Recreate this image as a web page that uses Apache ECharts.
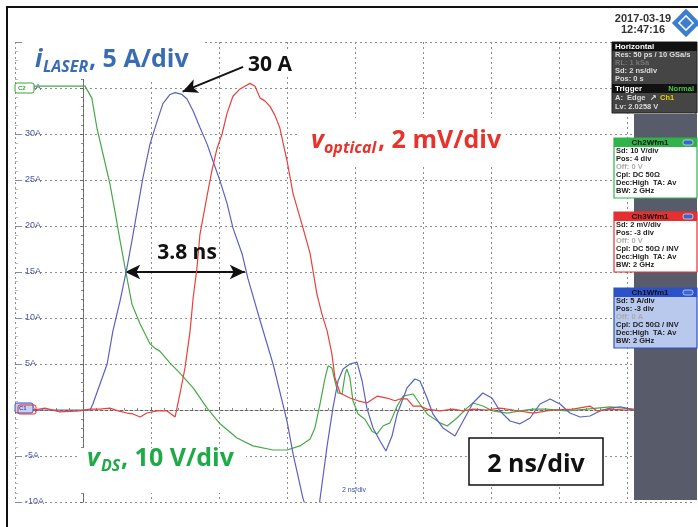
<!DOCTYPE html>
<html><head><meta charset="utf-8">
<script src="https://cdn.jsdelivr.net/npm/echarts@6/dist/echarts.min.js"></script>
<style>html,body{margin:0;padding:0;background:#fff}#c{width:698px;height:527px}</style>
</head><body><div id="c"></div>
<script>
// ---- data (time in ns relative to trigger line, values on the 5 A/div screen scale) ----
const yTickValues = [-10, -5, 0, 5, 10, 15, 20, 25, 30, 35, 40];
const yTickLabels = ['-10A', '-5A', '0A', '5A', '10A', '15A', '20A', '25A', '30A', '35A', ''];

const iLaser = [[-2,0],[0.21,0],[0.29,0.65],[0.5,2.83],[0.71,5.0],[0.88,8.6],[1.09,11.85],[1.29,15.4],[1.44,18.4],[1.59,21.6],[1.76,25.2],[1.97,28.9],[2.18,31.4],[2.35,33.3],[2.56,34.3],[2.71,34.5],[2.91,34.3],[3.06,33.8],[3.24,32.5],[3.44,30.7],[3.65,28.9],[3.82,27.1],[4.03,24.9],[4.24,22.4],[4.41,19.8],[4.68,16.96],[4.85,14.3],[5.21,9.7],[5.59,5.0],[6.0,-1.2],[6.18,-4.8],[6.47,-9.6],[6.68,-12],[6.91,-12],[6.97,-9.7],[7.18,-3.9],[7.35,0.2],[7.5,3.15],[7.65,4.46],[7.85,5.0],[8.06,5.2],[8.21,3.15],[8.35,0.2],[8.53,-1.96],[8.74,-3.4],[8.91,-4.46],[9.09,-2.8],[9.24,-0.43],[9.53,2.4],[9.76,3.37],[9.91,3.15],[10.12,1.3],[10.29,-0.43],[10.59,-1.96],[10.94,-2.83],[11.18,-1.2],[11.47,0.76],[11.76,1.85],[12.03,1.3],[12.26,-0.1],[12.56,-1.2],[12.85,-1.5],[13.15,-0.87],[13.44,0.65],[13.74,1.2],[14.03,0.65],[14.32,-0.33],[14.62,-0.76],[14.91,-0.65],[15.21,-0.1],[15.5,0.2],[15.8,0.35],[16.1,0.1],[16.4,-0.2],[16.7,-0.1],[17.0,0.1],[17.4,0.0],[18,0]];

const vOptical = [[-2,0.1],[-1.56,-0.1],[-1.12,0.2],[-0.68,-0.2],[-0.09,-0.1],[0.21,0.1],[0.5,0.1],[0.79,0.2],[1.03,-0.1],[1.29,-0.33],[1.47,-0.43],[1.68,-0.76],[1.88,-0.33],[2.18,-0.1],[2.47,-0.1],[2.71,-0.76],[2.85,1.74],[3.0,4.57],[3.15,8.6],[3.24,12.2],[3.35,15.4],[3.44,19.1],[3.65,23.3],[3.79,26.0],[3.94,28.4],[4.09,30.0],[4.24,32.3],[4.41,34.1],[4.62,34.9],[4.76,35.2],[4.91,35.5],[5.06,35.2],[5.21,33.9],[5.35,33.6],[5.5,33.0],[5.65,32.0],[5.79,30.65],[6.0,27.1],[6.18,23.5],[6.47,19.8],[6.68,17.0],[6.88,12.6],[7.03,10.4],[7.18,8.6],[7.32,6.1],[7.41,3.5],[7.56,1.85],[7.85,1.3],[8.09,1.0],[8.35,0.76],[8.65,1.5],[8.94,1.3],[9.18,1.0],[9.32,1.2],[9.53,1.2],[9.71,0.43],[9.91,0.43],[10.12,0.1],[10.5,-0.1],[10.88,0.1],[11.18,-0.1],[11.47,0.1],[11.88,0],[12.26,0.2],[12.65,0],[13.24,-0.33],[13.82,0],[14.41,0.1],[14.91,0.43],[15.12,-0.1],[15.5,0.1],[16.0,0.0],[16.6,0.15],[17.2,-0.1],[18,0]];

const vDS = [[-2,35.2],[0.06,35.2],[0.26,33.9],[0.41,30.65],[0.59,27.8],[0.79,24.6],[0.94,21.6],[1.09,18.4],[1.24,15.4],[1.44,11.5],[1.68,9.35],[1.97,7.2],[2.12,6.7],[2.26,6.4],[2.56,5.1],[2.85,4.0],[3.24,2.4],[3.65,0.2],[4.03,-1.5],[4.53,-3.04],[5.0,-3.9],[5.59,-4.35],[6.0,-4.35],[6.38,-3.9],[6.68,-3.15],[6.82,-1.96],[6.97,0.65],[7.12,3.5],[7.21,4.8],[7.32,4.57],[7.41,3.15],[7.5,1.85],[7.62,1.74],[7.71,3.9],[7.76,4.46],[7.85,3.5],[7.94,1.0],[8.09,-0.43],[8.29,-1.0],[8.5,-2.3],[8.65,-2.6],[8.82,-1.74],[9.03,-1.4],[9.24,0.43],[9.41,1.5],[9.71,1.74],[9.91,0.65],[10.12,-0.43],[10.5,-1.4],[10.71,-1.74],[11.0,-0.87],[11.29,0.2],[11.47,0.76],[11.76,0.43],[12.06,-0.1],[12.47,-0.33],[12.85,-0.1],[13.24,0.1],[13.62,0.1],[14.24,-0.1],[14.82,0.1],[15.5,0.33],[16.2,0.1],[16.9,0.2],[18,0.1]];

// annotation anchors (data coords)
const peakArrow = [[4.71, 37.3], [2.93, 34.6]];
const widthArrow = [[1.24, 15], [4.76, 15]];

// ---- chart ----
const chart = echarts.init(document.getElementById('c'), null, {renderer: 'canvas'});
const G = [];
function rect(x, y, w, h, fill, stroke, lw, z, r) {
  G.push({type: 'rect', z: z, shape: {x: x, y: y, width: w, height: h, r: r || 0},
    style: {fill: fill || 'none', stroke: stroke || null, lineWidth: lw || 0}});
}
function text(x, y, s, font, fill, align, z) {
  G.push({type: 'text', z: z || 40, x: x, y: y,
    style: {text: s, font: font, fill: fill, align: align || 'left', textAlign: align || 'left',
      verticalAlign: 'middle', textVerticalAlign: 'middle'}});
}
const OS = '"Open Sans", "Liberation Sans", sans-serif';
const BLUE_T = '#3a6cb4', RED_T = '#e8322b', GREEN_T = '#1faa48';

// white label backgrounds
rect(22, 42, 183, 37, '#fff', null, 0, 3);
rect(245, 52, 52, 24, '#fff', null, 0, 3);
rect(298, 118, 208, 46, '#fff', null, 0, 3);
rect(78, 448, 168, 45, '#fff', null, 0, 3);

// iLASER label
text(35, 60, 'i', 'italic bold 25px ' + OS, BLUE_T);
text(43, 67.5, 'LASER', 'italic bold 16px ' + OS, BLUE_T);
text(89, 60, ', 5 A/div', 'bold 25px ' + OS, BLUE_T);
// 30 A
text(248, 65, '30 A', 'bold 21px ' + OS, '#111');
// 3.8 ns
text(187, 253, '3.8 ns', 'bold 21px ' + OS, '#111', 'center');
// v optical
text(311, 141, 'v', 'italic bold 25px ' + OS, RED_T);
text(324, 148.5, 'optical', 'italic bold 16px ' + OS, RED_T);
text(378, 141, ', 2 mV/div', 'bold 25px ' + OS, RED_T);
// vDS
text(87, 459, 'v', 'italic bold 25px ' + OS, GREEN_T);
text(101, 466, 'DS', 'italic bold 16px ' + OS, GREEN_T);
text(121, 459, ', 10 V/div', 'bold 25px ' + OS, GREEN_T);
// 2 ns/div box
rect(469, 438, 134, 47, '#fff', '#111', 1.5, 45);
text(536, 465, '2 ns/div', 'bold 25px ' + OS, '#111', 'center', 46);
// small scope text
text(342, 490, '2 ns/div', '7px "Liberation Sans"', '#4050b0');

// channel markers
rect(15, 83, 19, 10, '#fff', '#3aa23a', 1, 35, 2);
text(18, 88, 'C2', 'bold 6px "Liberation Sans"', '#3aa23a', 'left', 36);
rect(15, 403, 18, 10, '#c9d1f2', '#4050b0', 1, 35, 2);
rect(18, 405, 18, 9, 'none', '#e03030', 1, 36, 2);
text(19, 408, 'C1', 'bold 6px "Liberation Sans"', '#4050b0', 'left', 37);

// right info panel
rect(634, 114, 63, 386, '#585b69', null, 0, 30);
text(643, 19, '2017-03-19', 'bold 11px "Liberation Sans"', '#333', 'center', 31);
text(643, 30, '12:47:16', 'bold 11px "Liberation Sans"', '#333', 'center', 31);
G.push({type: 'rect', z: 31, x: 686, y: 23, rotation: Math.PI / 4, shape: {x: -10, y: -10, width: 20, height: 20},
  style: {fill: '#3b7ed0'}});
G.push({type: 'rect', z: 32, x: 686, y: 23, rotation: Math.PI / 4, shape: {x: -5, y: -5, width: 10, height: 10},
  style: {fill: 'none', stroke: '#fff', lineWidth: 1.5}});

const SF = 'bold 7.5px "Liberation Sans"';
// Horizontal box
rect(612, 42, 85, 71, '#454545', '#222', 1, 31);
rect(612, 42, 85, 9, '#111', null, 0, 32);
text(615, 46.5, 'Horizontal', 'bold 8px "Liberation Sans"', '#fff', 'left', 33);
text(615, 55, 'Res: 50 ps / 10 GSa/s', SF, '#ddd', 'left', 33);
text(615, 63, 'RL: 1 kSa', SF, '#777', 'left', 33);
text(615, 71, 'Sd: 2 ns/div', SF, '#ddd', 'left', 33);
text(615, 79, 'Pos: 0 s', SF, '#ddd', 'left', 33);
rect(612, 84, 85, 9, '#111', null, 0, 32);
text(615, 88.5, 'Trigger', 'bold 8px "Liberation Sans"', '#fff', 'left', 33);
text(694, 88.5, 'Normal', 'bold 7.5px "Liberation Sans"', '#4c4', 'right', 33);
text(615, 98, 'A:  Edge  \u2197', SF, '#ddd', 'left', 33);
text(660, 98, 'Ch1', SF, '#e6d000', 'left', 33);
text(615, 107, 'Lv: 2.0258 V', SF, '#ddd', 'left', 33);

function chBox(y, head, headCol, bodyCol, lines) {
  const h = 10 + lines.length * 8 + 2;
  rect(614, y, 83, h, bodyCol, headCol, 1.2, 31);
  rect(614, y, 83, 9, headCol, null, 0, 32);
  text(650, y + 4.5, head, 'bold 8px "Liberation Sans"', '#111', 'center', 33);
  rect(683, y + 2, 10, 5, '#3a66d0', '#fff', 0.6, 33, 2);
  lines.forEach(function (l, i) {
    text(616, y + 13 + i * 8, l[0], SF, l[1] ? '#aaa' : '#222', 'left', 33);
  });
}
chBox(138, 'Ch2Wfm1', '#2fb34a', '#fff', [['Sd: 10 V/div'], ['Pos: 4 div'], ['Off: 0 V', 1], ['Cpl: DC 50\u03A9'], ['Dec:High  TA: Av'], ['BW: 2 GHz']]);
chBox(212, 'Ch3Wfm1', '#e53030', '#fff', [['Sd: 2 mV/div'], ['Pos: -3 div'], ['Off: 0 V', 1], ['Cpl: DC 50\u03A9 / INV'], ['Dec:High  TA: Av'], ['BW: 2 GHz']]);
chBox(288, 'Ch1Wfm1', '#2c52c8', '#b9c9ee', [['Sd: 5 A/div'], ['Pos: -3 div'], ['Off: 0 A', 1], ['Cpl: DC 50\u03A9 / INV'], ['Dec:High  TA: Av'], ['BW: 2 GHz']]);

// outer frame
rect(7, 7, 740, 580, 'none', '#111', 2, 60);

const gridDot = {color: '#8e8e8e', type: [2, 3], width: 1};
const option = {
  animation: false,
  backgroundColor: '#fff',
  grid: {left: 15, top: 42, width: 680, height: 460},
  xAxis: [{
    type: 'value', min: -2, max: 18, interval: 2,
    axisLabel: {show: false},
    axisLine: {show: true, onZero: true, lineStyle: {color: '#666', type: [3, 2], width: 1}},
    axisTick: {show: true, inside: true, length: 3, lineStyle: {color: '#666'}},
    minorTick: {show: true, splitNumber: 5, length: 2, lineStyle: {color: '#888'}},
    splitLine: {show: true, lineStyle: gridDot}
  }],
  yAxis: [{
    type: 'value', min: -10, max: 40, interval: 5,
    axisLine: {show: false, onZero: false},
    axisTick: {show: true, inside: true, length: 6, lineStyle: {color: '#8088b0'}},
    minorTick: {show: true, splitNumber: 5, length: 3, lineStyle: {color: '#bbb'}},
    splitLine: {show: true, lineStyle: gridDot},
    axisLabel: {inside: true, margin: 10, color: '#5057a5', fontSize: 9, fontFamily: '"Liberation Sans", sans-serif',
      formatter: function (v) { const i = yTickValues.indexOf(v); return i >= 0 ? yTickLabels[i] : ''; }}
  }, {
    type: 'value', min: -10, max: 40, interval: 5, position: 'left',
    axisLine: {show: true, onZero: true, lineStyle: {color: '#666', type: [3, 2], width: 1}},
    axisTick: {show: true, length: 3, lineStyle: {color: '#666'}},
    minorTick: {show: true, splitNumber: 5, length: 2, lineStyle: {color: '#888'}},
    axisLabel: {show: false}, splitLine: {show: false}
  }],
  graphic: {elements: G},
  series: [
    {type: 'line', name: 'vDS', data: vDS, symbol: 'none', z: 10, clip: true,
      lineStyle: {color: '#48a848', width: 1.2}},
    {type: 'line', name: 'iLASER', data: iLaser, symbol: 'none', z: 11, clip: true,
      lineStyle: {color: '#5a62c0', width: 1.2},
      markLine: {silent: true, symbol: ['none', 'arrow'], symbolSize: [11, 15], label: {show: false},
        lineStyle: {color: '#111', width: 2, type: 'solid'},
        data: [
          [{coord: peakArrow[0], symbol: 'none'}, {coord: peakArrow[1], symbol: 'arrow'}],
          [{coord: widthArrow[0], symbol: 'arrow'}, {coord: widthArrow[1], symbol: 'arrow'}]
        ]}},
    {type: 'line', name: 'vOptical', data: vOptical, symbol: 'none', z: 12, clip: true,
      lineStyle: {color: '#e8403a', width: 1.2}}
  ]
};
chart.setOption(option);
</script>
</body></html>
